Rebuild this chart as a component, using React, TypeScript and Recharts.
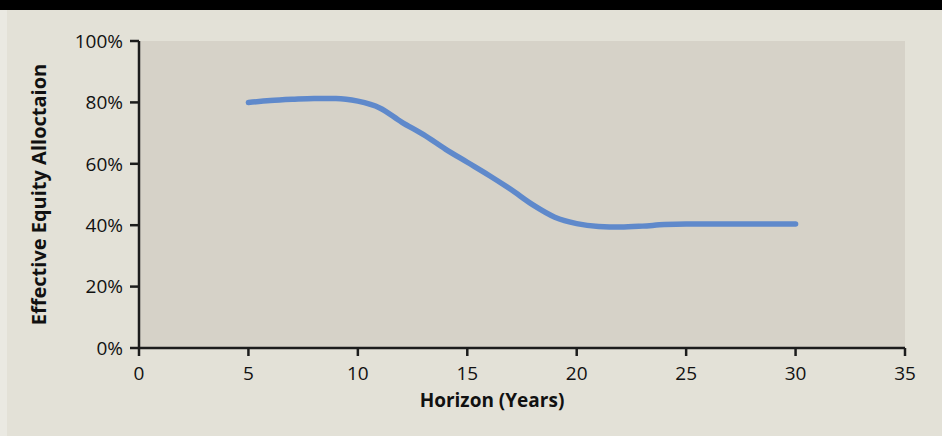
import { LineChart, Line, XAxis, YAxis, CartesianGrid, Label } from 'recharts';

const years = [5, 6, 7, 8, 9, 10, 11, 12, 13, 14, 15, 16, 17, 18, 19, 20, 21, 22, 23, 24, 25, 26, 27, 28, 29, 30];
const allocation = [80, 80.6, 81, 81.3, 81.3, 80.4, 78.2, 73.6, 69.5, 64.8, 60.5, 56.2, 51.6, 46.6, 42.6, 40.5, 39.6, 39.4, 39.7, 40.2, 40.4, 40.4, 40.4, 40.4, 40.4, 40.4];
const xTicks = [0, 5, 10, 15, 20, 25, 30, 35];
const yTicks = [0, 20, 40, 60, 80, 100];

const data = years.map((y, i) => ({ year: y, value: allocation[i] }));

const FONT = '"Open Sans", "Noto Sans", sans-serif';
const AXIS = '#1c1c1c';

const YLabel = (props: any) => {
  const vb = props.viewBox || { y: 41, height: 307 };
  const cx = 38;
  const cy = vb.y + vb.height / 2;
  return (
    <text
      x={cx}
      y={cy}
      transform={`rotate(-90 ${cx} ${cy})`}
      textAnchor="middle"
      dominantBaseline="central"
      fontFamily={FONT}
      fontWeight={700}
      fontSize={20}
      fill="#111"
    >
      Effective Equity Alloctaion
    </text>
  );
};

export default function App() {
  return (
    <div style={{ position: 'relative', width: 942, height: 436, background: '#e3e1d7', fontFamily: FONT }}>
      <style>{`body{margin:0}`}</style>
      <div style={{ position: 'absolute', left: 0, top: 0, width: 942, height: 10, background: '#000' }} />
      <div style={{ position: 'absolute', left: 0, top: 10, width: 7, height: 426, background: '#eae9e2' }} />
      <div style={{ position: 'absolute', left: 0, top: 0 }}>
        <LineChart width={942} height={436} data={data} margin={{ top: 41, right: 37, left: 0, bottom: 28 }}>
          <CartesianGrid fill="#d6d2c8" horizontal={false} vertical={false} />
          <XAxis
            dataKey="year"
            type="number"
            domain={[0, 35]}
            ticks={xTicks}
            height={60}
            stroke={AXIS}
            strokeWidth={2.5}
            tickSize={8}
            tickMargin={11}
            tick={{ fill: '#111', fontSize: 19, fontFamily: FONT }}
            tickLine={{ stroke: AXIS, strokeWidth: 2.5 }}
          >
            <Label
              value="Horizon (Years)"
              position="insideBottom"
              offset={1}
              dx={-30}
              style={{ fontFamily: FONT, fontWeight: 700, fontSize: 19, fill: '#111' }}
            />
          </XAxis>
          <YAxis
            type="number"
            domain={[0, 100]}
            ticks={yTicks}
            width={139}
            stroke={AXIS}
            strokeWidth={2.5}
            tickSize={9}
            tickMargin={7}
            tickFormatter={(v) => `${v}%`}
            tick={{ fill: '#111', fontSize: 19, fontFamily: FONT }}
            tickLine={{ stroke: AXIS, strokeWidth: 2.5 }}
            label={<YLabel />}
          />
          <Line
            type="monotone"
            dataKey="value"
            stroke="#5f89cb"
            strokeWidth={5.5}
            dot={false}
            strokeLinecap="round"
            isAnimationActive={false}
          />
        </LineChart>
      </div>
    </div>
  );
}
